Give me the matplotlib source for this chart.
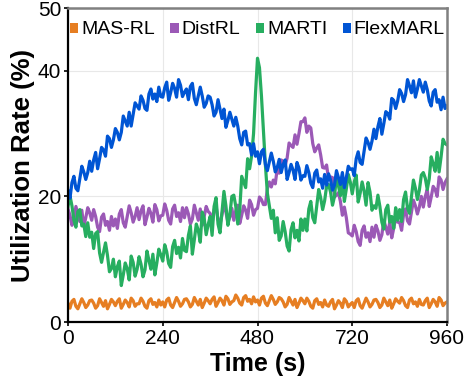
import numpy as np
import matplotlib
matplotlib.use("Agg")
import matplotlib.pyplot as plt
from matplotlib.patches import Patch

plt.rcParams['font.family'] = ['Liberation Sans', 'DejaVu Sans']

labels = ["MAS-RL", "DistRL", "MARTI", "FlexMARL"]
colors = ["#E67E22", "#9B59B6", "#27AE60", "#0055D4"]
xticks = [0, 240, 480, 720, 960]
yticks = [0, 20, 40, 50]

# sampled every 5 s from 0 to 960 s
mas_rl = [
    3.0, 2.2, 3.3, 3.6, 2.5, 2.1, 2.9, 3.7, 3.1, 2.3, 2.7, 3.4,
    3.5, 3.0, 2.2, 2.6, 3.7, 3.1, 2.5, 3.4, 2.1, 2.8, 3.6, 3.2,
    2.6, 3.3, 3.7, 2.2, 2.8, 3.5, 3.1, 2.4, 3.8, 3.4, 2.5, 2.9,
    2.9, 3.8, 3.3, 2.5, 2.2, 3.4, 3.7, 2.8, 3.1, 2.4, 3.5, 2.7,
    3.2, 2.4, 3.5, 3.8, 2.7, 2.3, 3.1, 3.9, 3.3, 2.5, 2.9, 3.6,
    3.7, 3.2, 2.4, 2.8, 3.9, 3.3, 2.7, 3.6, 2.3, 3.0, 3.8, 3.4,
    2.9, 3.6, 4.0, 2.5, 3.1, 3.8, 3.4, 2.7, 4.1, 3.7, 2.8, 3.2,
    3.4, 4.3, 3.8, 3.0, 2.7, 3.9, 4.2, 3.3, 3.6, 2.9, 4.0, 3.2,
    3.5, 2.7, 3.8, 4.1, 3.0, 2.6, 3.4, 4.2, 3.6, 2.8, 3.2, 3.9,
    3.7, 3.2, 2.4, 2.8, 3.9, 3.3, 2.7, 3.6, 2.3, 3.0, 3.8, 3.4,
    2.9, 3.8, 3.3, 2.5, 2.2, 3.4, 3.7, 2.8, 3.1, 2.4, 3.5, 2.7,
    2.5, 3.2, 3.6, 2.1, 2.7, 3.4, 3.0, 2.3, 3.7, 3.3, 2.4, 2.8,
    3.1, 2.3, 3.4, 3.7, 2.6, 2.2, 3.0, 3.8, 3.2, 2.4, 2.8, 3.5,
    3.6, 3.1, 2.3, 2.7, 3.8, 3.2, 2.6, 3.5, 2.2, 2.9, 3.7, 3.3,
    3.0, 3.9, 3.4, 2.6, 2.3, 3.5, 3.8, 2.9, 3.2, 2.5, 3.6, 2.8,
    2.7, 3.4, 3.8, 2.3, 2.9, 3.6, 3.2, 2.5, 3.9, 3.5, 2.6, 3.0,
    3.2]

distrl = [
    18.0, 17.0, 15.4, 16.2, 18.4, 17.2, 16.0, 17.8, 15.2, 16.6, 18.2, 17.4,
    16.2, 17.9, 16.8, 15.1, 14.4, 16.7, 17.2, 15.4, 16.0, 14.6, 16.8, 15.3,
    16.4, 14.9, 17.2, 17.9, 15.8, 15.1, 16.8, 18.5, 17.4, 15.9, 16.8, 18.2,
    16.3, 17.7, 18.5, 15.5, 16.7, 18.1, 17.3, 15.9, 18.7, 17.9, 16.1, 16.9,
    17.0, 18.8, 17.8, 16.2, 15.6, 18.0, 18.6, 16.8, 17.4, 16.0, 18.2, 16.6,
    18.2, 17.2, 15.6, 16.4, 18.6, 17.4, 16.2, 18.0, 15.4, 16.8, 18.4, 17.6,
    17.3, 15.7, 17.9, 18.5, 16.3, 15.5, 17.1, 18.7, 17.5, 15.9, 16.7, 18.1,
    16.2, 17.7, 18.6, 15.7, 17.0, 18.5, 17.8, 16.5, 19.4, 18.7, 17.0, 17.9,
    18.1, 19.9, 19.5, 18.7, 18.7, 21.2, 22.3, 21.5, 22.6, 22.0, 24.4, 23.7,
    25.8, 25.6, 24.9, 26.1, 28.5, 28.1, 27.8, 29.8, 28.3, 30.0, 31.9, 31.9,
    32.5, 30.2, 31.2, 30.9, 28.4, 27.1, 27.7, 28.2, 26.6, 24.6, 24.5, 25.0,
    22.7, 23.1, 23.0, 19.9, 20.2, 20.6, 19.2, 17.0, 18.3, 16.6, 14.2, 14.0,
    13.7, 15.4, 14.4, 12.8, 12.2, 14.6, 15.3, 13.5, 14.2, 12.8, 15.1, 13.5,
    15.4, 14.5, 13.0, 13.9, 16.2, 15.1, 14.0, 15.9, 13.4, 14.9, 16.6, 15.9,
    15.9, 14.6, 17.1, 18.0, 16.1, 15.6, 17.5, 19.4, 18.5, 17.2, 18.3, 20.0,
    18.3, 20.0, 21.1, 18.4, 19.9, 21.6, 21.1, 20.0, 23.1, 22.6, 21.1, 22.2,
    22.8]

marti = [
    18.4, 20.1, 18.5, 16.2, 15.1, 17.6, 17.9, 15.3, 15.6, 13.6, 15.8, 13.5,
    14.3, 11.7, 14.1, 14.4, 11.0, 9.5, 11.1, 12.6, 10.6, 8.0, 8.5, 10.0,
    7.2, 8.8, 9.7, 5.8, 7.5, 9.4, 8.5, 6.7, 10.5, 9.5, 7.3, 8.4,
    10.4, 9.2, 7.2, 8.3, 11.3, 9.8, 8.4, 10.8, 7.5, 9.4, 11.6, 10.7,
    9.7, 12.3, 11.2, 9.3, 8.7, 12.0, 13.0, 10.9, 11.9, 10.2, 13.3, 11.4,
    11.2, 13.8, 15.3, 10.8, 13.1, 15.6, 14.6, 12.7, 17.5, 16.5, 13.9, 15.5,
    16.8, 13.8, 18.4, 19.8, 15.6, 14.2, 17.5, 20.8, 18.5, 15.4, 17.1, 20.0,
    20.2, 18.4, 15.6, 17.8, 23.2, 22.3, 21.4, 26.0, 24.4, 26.4, 30.0, 36.5,
    42.0, 40.5, 36.0, 30.5, 25.0, 20.5, 18.5, 16.5, 17.8, 14.2, 16.6, 13.0,
    13.7, 16.0, 14.4, 12.1, 11.3, 14.7, 15.8, 13.4, 14.6, 12.9, 16.4, 14.6,
    16.4, 14.5, 18.0, 19.2, 16.6, 15.8, 18.5, 21.1, 19.8, 17.9, 19.3, 21.6,
    21.9, 20.7, 18.6, 20.0, 23.2, 21.7, 20.1, 22.7, 19.2, 21.2, 23.5, 22.3,
    20.4, 22.3, 23.4, 19.1, 20.5, 22.3, 20.9, 18.6, 22.2, 20.7, 17.8, 18.5,
    18.1, 20.2, 18.4, 15.9, 14.8, 17.9, 18.6, 15.9, 16.8, 14.9, 18.2, 16.2,
    17.9, 16.0, 19.5, 20.7, 18.1, 17.3, 20.0, 22.6, 21.3, 19.5, 21.0, 23.4,
    23.8, 22.9, 21.1, 22.8, 26.3, 25.2, 24.0, 27.0, 23.9, 26.3, 29.1, 28.4,
    28.2]

flexmarl = [
    20.9, 19.7, 22.2, 23.2, 21.3, 20.9, 22.8, 24.8, 23.9, 22.7, 23.8, 25.6,
    24.0, 25.8, 27.0, 24.4, 26.0, 27.8, 27.4, 26.4, 29.6, 29.2, 27.8, 29.0,
    30.8, 30.2, 29.0, 30.2, 32.8, 32.0, 31.2, 33.4, 31.2, 33.0, 34.9, 34.4,
    33.9, 36.0, 35.3, 34.0, 33.7, 36.3, 37.1, 35.5, 36.3, 35.1, 37.4, 35.9,
    35.8, 37.3, 38.2, 35.3, 36.5, 38.0, 37.2, 35.8, 38.6, 37.7, 35.9, 36.6,
    37.1, 35.4, 37.5, 38.0, 35.6, 34.6, 36.0, 37.4, 36.0, 34.2, 34.8, 36.0,
    35.8, 34.6, 32.8, 33.4, 35.4, 33.9, 32.4, 33.9, 31.0, 32.1, 33.4, 32.3,
    31.2, 32.6, 31.2, 29.2, 28.2, 30.2, 30.4, 28.2, 28.4, 26.6, 28.4, 26.4,
    27.1, 25.2, 27.1, 27.5, 25.1, 24.1, 25.5, 26.9, 25.6, 23.9, 24.6, 25.9,
    23.8, 25.1, 25.8, 22.7, 23.8, 25.1, 24.2, 22.7, 25.4, 24.5, 22.6, 23.3,
    23.2, 24.9, 23.8, 22.1, 21.4, 23.7, 24.2, 22.3, 22.8, 21.3, 23.5, 21.8,
    23.6, 22.6, 21.0, 21.8, 24.1, 23.0, 21.9, 23.8, 21.4, 23.0, 24.8, 24.3,
    24.4, 23.3, 26.0, 27.1, 25.4, 25.1, 27.2, 29.3, 28.6, 27.5, 28.8, 30.7,
    29.2, 31.1, 32.4, 29.9, 31.6, 33.5, 33.2, 32.3, 35.6, 35.3, 34.0, 35.2,
    37.0, 36.4, 35.1, 36.2, 38.6, 37.6, 36.5, 38.4, 35.8, 37.1, 38.6, 37.6,
    36.6, 38.2, 37.0, 35.2, 34.4, 36.6, 37.0, 35.0, 35.4, 33.8, 35.8, 34.0,
    34.4]

series = [mas_rl, distrl, marti, flexmarl]

fig = plt.figure(figsize=(4.68, 3.88), dpi=100)
ax = fig.add_axes([68/468, 66/388, 379/468, 314/388])

for vals, lab, c in zip(series, labels, colors):
    t = np.linspace(0, 960, len(vals))
    ax.plot(t, vals, color=c, lw=2.3, label=lab)

ax.set_xlim(0, 960)
ax.set_ylim(0, 50)
ax.set_xticks(xticks)
ax.set_yticks(yticks)
ax.tick_params(labelsize=15, length=3, width=1.2, pad=2)
ax.grid(True, color='#e8e8e8', lw=0.8)
ax.set_axisbelow(True)
for s in ['left', 'bottom']:
    ax.spines[s].set_color('black')
    ax.spines[s].set_linewidth(1.6)
for s in ['top', 'right']:
    ax.spines[s].set_color('#808080')
    ax.spines[s].set_linewidth(1.8)

ax.set_xlabel("Time (s)", fontsize=18, fontweight='bold', labelpad=3)
ax.set_ylabel("Utilization Rate (%)", fontsize=18.5, fontweight='bold', labelpad=2)

handles = [Patch(facecolor=c, edgecolor='none') for c in colors]
ax.legend(handles, labels, loc='center', bbox_to_anchor=(0.5, 0.93), ncol=4,
          frameon=False, fontsize=14, handlelength=0.42, handleheight=0.42,
          handletextpad=0.15, columnspacing=0.8, borderaxespad=0.0, borderpad=0.0)

fig.savefig("out.png", dpi=100)
